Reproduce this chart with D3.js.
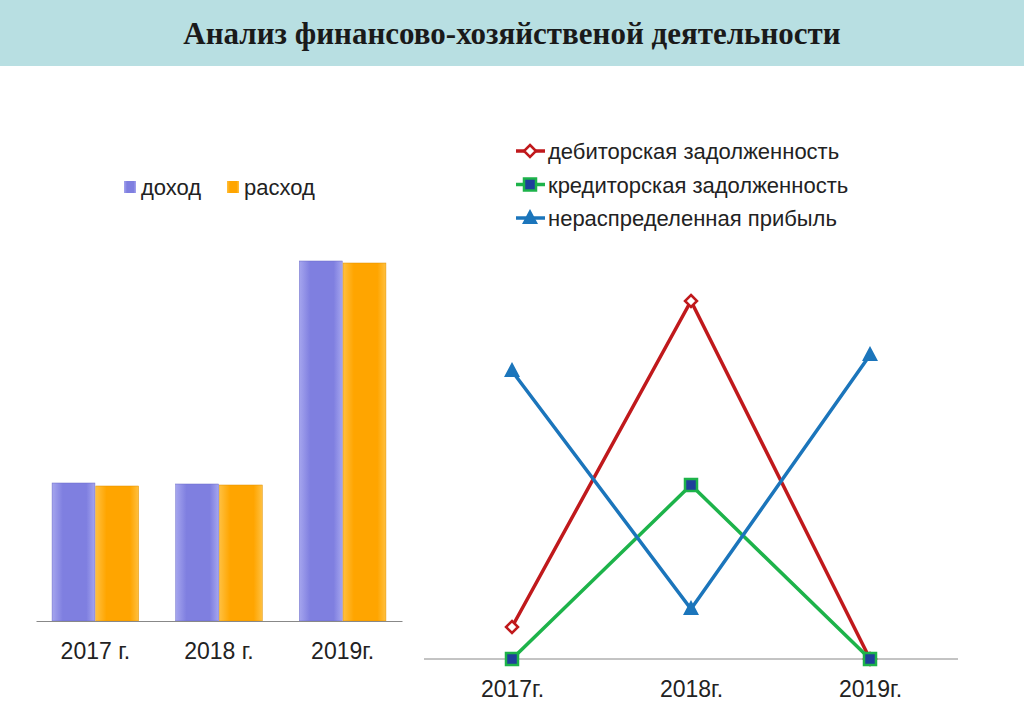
<!DOCTYPE html>
<html><head><meta charset="utf-8">
<script src="https://cdn.jsdelivr.net/npm/d3@7"></script>
<style>body{margin:0;background:#fff}</style>
</head><body>
<script>
var years = ["2017 г.", "2018 г.", "2019г."];
var income = [138, 137, 360];
var expense = [135, 136, 358];

var lineYears = ["2017г.", "2018г.", "2019г."];
var debit = [32, 358, 0];
var credit = [0, 174, 0];
var profit = [288, 50, 304];

var svg = d3.select("body").append("svg").attr("width", 1024).attr("height", 708)
    .style("font-family", "Arial, 'Liberation Sans', sans-serif");

var defs = svg.append("defs");
function grad(id, c1, c2) {
  var g = defs.append("linearGradient").attr("id", id);
  g.append("stop").attr("offset", "0%").attr("stop-color", c2);
  g.append("stop").attr("offset", "25%").attr("stop-color", c1);
  g.append("stop").attr("offset", "80%").attr("stop-color", c1);
  g.append("stop").attr("offset", "100%").attr("stop-color", c2);
}
grad("gPurple", "#7f7fe0", "#a5a5ee");
grad("gOrange", "#ffa500", "#ffc040");

// title band
svg.append("rect").attr("x", 0).attr("y", 0).attr("width", 1024).attr("height", 66).attr("fill", "#b8dfe2");
svg.append("text").attr("x", 512).attr("y", 44).attr("text-anchor", "middle")
    .style("font-family", "'Liberation Serif', serif").style("font-weight", "bold").style("font-size", "31px")
    .attr("fill", "#1a1a1a").text("Анализ финансово-хозяйственой деятельности");

// bar chart
var x0 = d3.scaleBand().domain(years).range([36, 402]).paddingInner(0.3).paddingOuter(0.13);
var x1 = d3.scaleBand().domain(["inc", "exp"]).range([0, x0.bandwidth()]).paddingInner(0.02);
var y = d3.scaleLinear().domain([0, 360]).range([621, 261]);

var grp = svg.append("g").selectAll("g").data(years).join("g")
    .attr("transform", d => `translate(${x0(d)},0)`);
grp.append("rect").attr("x", x1("inc")).attr("width", x1.bandwidth())
    .attr("y", (d, i) => y(income[i])).attr("height", (d, i) => y(0) - y(income[i]))
    .attr("fill", "url(#gPurple)").attr("stroke", "#6a6ac8").attr("stroke-width", 0.5);
grp.append("rect").attr("x", x1("exp")).attr("width", x1.bandwidth())
    .attr("y", (d, i) => y(expense[i])).attr("height", (d, i) => y(0) - y(expense[i]))
    .attr("fill", "url(#gOrange)").attr("stroke", "#e09000").attr("stroke-width", 0.5);

svg.append("g").attr("transform", "translate(0,621)")
    .call(d3.axisBottom(x0).tickSize(0).tickPadding(22))
    .call(g => g.select(".domain").attr("stroke", "#888"))
    .call(g => g.selectAll("text").style("font-size", "23px").attr("fill", "#222")
        .style("font-family", "Arial, 'Liberation Sans', sans-serif"));

var bl = svg.append("g").attr("transform", "translate(124,181)");
bl.append("rect").attr("width", 12).attr("height", 12).attr("fill", "url(#gPurple)");
bl.append("text").attr("x", 17).attr("y", 14).style("font-size", "22px").attr("fill", "#222").text("доход");
bl.append("rect").attr("x", 103).attr("width", 12).attr("height", 12).attr("fill", "url(#gOrange)");
bl.append("text").attr("x", 120).attr("y", 14).style("font-size", "22px").attr("fill", "#222").text("расход");

// line chart
var xl = d3.scalePoint().domain(lineYears).range([512, 870]);
var yl = d3.scaleLinear().domain([0, 358]).range([659, 301]);

svg.append("line").attr("x1", 424).attr("x2", 958).attr("y1", 659).attr("y2", 659).attr("stroke", "#888");
svg.append("g").attr("transform", "translate(0,659)")
    .call(d3.axisBottom(xl).tickSize(0).tickPadding(22))
    .call(g => g.select(".domain").remove())
    .call(g => g.selectAll("text").style("font-size", "23px").attr("fill", "#222")
        .style("font-family", "Arial, 'Liberation Sans', sans-serif"));

var series = [
  {name: "дебиторская задолженность", vals: debit, color: "#c0191c", mark: "diamond"},
  {name: "кредиторская задолженность", vals: credit, color: "#1db34a", mark: "square"},
  {name: "нераспределенная прибыль", vals: profit, color: "#1b75bb", mark: "triangle"}
];
var line = d3.line().x((d, i) => xl(lineYears[i])).y(d => yl(d));

function marker(g, s, cx, cy) {
  if (s.mark === "diamond") {
    g.append("path").attr("d", `M${cx},${cy-6}L${cx+6},${cy}L${cx},${cy+6}L${cx-6},${cy}Z`)
      .attr("fill", "#fff").attr("stroke", s.color).attr("stroke-width", 2.5);
  } else if (s.mark === "square") {
    g.append("rect").attr("x", cx - 6).attr("y", cy - 6).attr("width", 12).attr("height", 12)
      .attr("fill", "#1f3f9a").attr("stroke", s.color).attr("stroke-width", 2.5);
  } else {
    g.append("path").attr("d", `M${cx},${cy-9}L${cx+8},${cy+6}L${cx-8},${cy+6}Z`).attr("fill", s.color);
  }
}

series.forEach((s, k) => {
  var g = svg.append("g");
  g.append("path").attr("d", line(s.vals)).attr("fill", "none").attr("stroke", s.color).attr("stroke-width", 3.5);
  s.vals.forEach((v, i) => marker(g, s, xl(lineYears[i]), yl(v)));
  var ly = 151 + k * 33.5;
  g.append("line").attr("x1", 516).attr("x2", 545).attr("y1", ly).attr("y2", ly).attr("stroke", s.color).attr("stroke-width", 3.5);
  marker(g, s, 530, ly);
  g.append("text").attr("x", 548).attr("y", ly + 8).style("font-size", "22px").attr("fill", "#222").text(s.name);
});
</script>
</body></html>
